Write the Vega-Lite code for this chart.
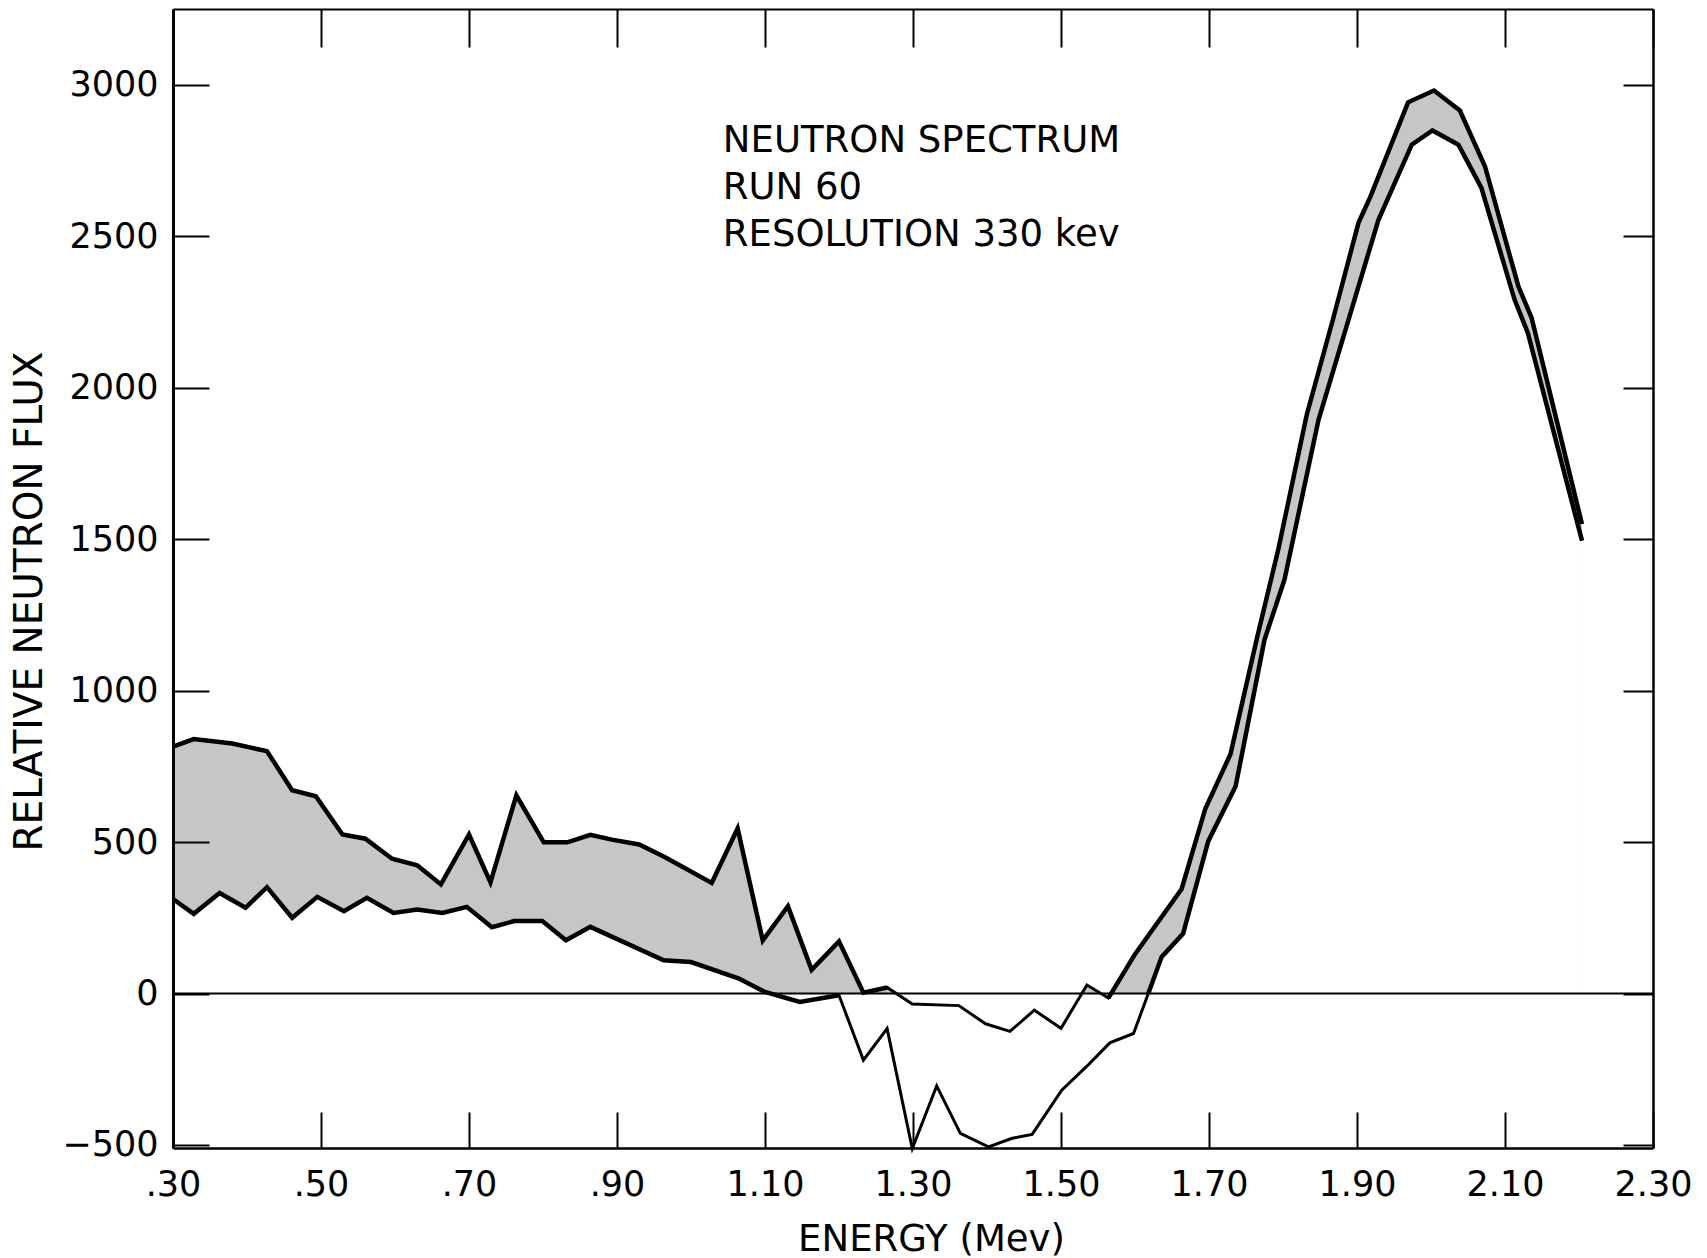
{
  "$schema": "https://vega.github.io/schema/vega-lite/v6.json",
  "width": 1480,
  "height": 1139,
  "autosize": {"type": "none"},
  "padding": {"left": 173, "top": 9, "right": 54, "bottom": 110},
  "background": "white",
  "config": {"view": {"stroke": null}},
  "datasets": {
    "curves": [
      {"E": 0.300, "flux": 815, "curve": "upper", "edge": "left"},
      {"E": 0.328, "flux": 840, "curve": "upper", "edge": "left"},
      {"E": 0.380, "flux": 825, "curve": "upper", "edge": "left"},
      {"E": 0.427, "flux": 800, "curve": "upper", "edge": "left"},
      {"E": 0.461, "flux": 671, "curve": "upper", "edge": "left"},
      {"E": 0.493, "flux": 651, "curve": "upper", "edge": "left"},
      {"E": 0.529, "flux": 525, "curve": "upper", "edge": "left"},
      {"E": 0.560, "flux": 511, "curve": "upper", "edge": "left"},
      {"E": 0.596, "flux": 445, "curve": "upper", "edge": "left"},
      {"E": 0.630, "flux": 423, "curve": "upper", "edge": "left"},
      {"E": 0.662, "flux": 360, "curve": "upper", "edge": "left"},
      {"E": 0.700, "flux": 525, "curve": "upper", "edge": "left"},
      {"E": 0.729, "flux": 367, "curve": "upper", "edge": "left"},
      {"E": 0.764, "flux": 654, "curve": "upper", "edge": "left"},
      {"E": 0.801, "flux": 499, "curve": "upper", "edge": "left"},
      {"E": 0.833, "flux": 499, "curve": "upper", "edge": "left"},
      {"E": 0.864, "flux": 524, "curve": "upper", "edge": "left"},
      {"E": 0.893, "flux": 508, "curve": "upper", "edge": "left"},
      {"E": 0.930, "flux": 492, "curve": "upper", "edge": "left"},
      {"E": 0.965, "flux": 450, "curve": "upper", "edge": "left"},
      {"E": 1.028, "flux": 365, "curve": "upper", "edge": "left"},
      {"E": 1.063, "flux": 545, "curve": "upper", "edge": "left"},
      {"E": 1.097, "flux": 175, "curve": "upper", "edge": "left"},
      {"E": 1.131, "flux": 288, "curve": "upper", "edge": "left"},
      {"E": 1.163, "flux": 78, "curve": "upper", "edge": "left"},
      {"E": 1.200, "flux": 172, "curve": "upper", "edge": "left"},
      {"E": 1.233, "flux": 3, "curve": "upper", "edge": "left"},
      {"E": 1.265, "flux": 20, "curve": "upper", "edge": "left"},
      {"E": 1.299, "flux": -35, "curve": "upper", "edge": "none"},
      {"E": 1.362, "flux": -40, "curve": "upper", "edge": "none"},
      {"E": 1.398, "flux": -100, "curve": "upper", "edge": "none"},
      {"E": 1.431, "flux": -125, "curve": "upper", "edge": "none"},
      {"E": 1.464, "flux": -55, "curve": "upper", "edge": "none"},
      {"E": 1.500, "flux": -115, "curve": "upper", "edge": "none"},
      {"E": 1.535, "flux": 28, "curve": "upper", "edge": "none"},
      {"E": 1.564, "flux": -15, "curve": "upper", "edge": "right"},
      {"E": 1.600, "flux": 130, "curve": "upper", "edge": "right"},
      {"E": 1.663, "flux": 345, "curve": "upper", "edge": "right"},
      {"E": 1.695, "flux": 610, "curve": "upper", "edge": "right"},
      {"E": 1.729, "flux": 790, "curve": "upper", "edge": "right"},
      {"E": 1.765, "flux": 1175, "curve": "upper", "edge": "right"},
      {"E": 1.794, "flux": 1470, "curve": "upper", "edge": "right"},
      {"E": 1.832, "flux": 1910, "curve": "upper", "edge": "right"},
      {"E": 1.868, "flux": 2230, "curve": "upper", "edge": "right"},
      {"E": 1.902, "flux": 2544, "curve": "upper", "edge": "right"},
      {"E": 1.918, "flux": 2630, "curve": "upper", "edge": "right"},
      {"E": 1.969, "flux": 2942, "curve": "upper", "edge": "right"},
      {"E": 2.004, "flux": 2981, "curve": "upper", "edge": "right"},
      {"E": 2.039, "flux": 2915, "curve": "upper", "edge": "right"},
      {"E": 2.073, "flux": 2730, "curve": "upper", "edge": "right"},
      {"E": 2.118, "flux": 2335, "curve": "upper", "edge": "right"},
      {"E": 2.136, "flux": 2230, "curve": "upper", "edge": "right"},
      {"E": 2.204, "flux": 1550, "curve": "upper", "edge": "right"},

      {"E": 0.300, "flux": 312, "curve": "lower", "edge": "left"},
      {"E": 0.328, "flux": 263, "curve": "lower", "edge": "left"},
      {"E": 0.363, "flux": 332, "curve": "lower", "edge": "left"},
      {"E": 0.398, "flux": 283, "curve": "lower", "edge": "left"},
      {"E": 0.427, "flux": 351, "curve": "lower", "edge": "left"},
      {"E": 0.461, "flux": 250, "curve": "lower", "edge": "left"},
      {"E": 0.495, "flux": 319, "curve": "lower", "edge": "left"},
      {"E": 0.531, "flux": 272, "curve": "lower", "edge": "left"},
      {"E": 0.562, "flux": 316, "curve": "lower", "edge": "left"},
      {"E": 0.598, "flux": 266, "curve": "lower", "edge": "left"},
      {"E": 0.630, "flux": 277, "curve": "lower", "edge": "left"},
      {"E": 0.664, "flux": 266, "curve": "lower", "edge": "left"},
      {"E": 0.697, "flux": 286, "curve": "lower", "edge": "left"},
      {"E": 0.731, "flux": 219, "curve": "lower", "edge": "left"},
      {"E": 0.761, "flux": 239, "curve": "lower", "edge": "left"},
      {"E": 0.799, "flux": 239, "curve": "lower", "edge": "left"},
      {"E": 0.831, "flux": 176, "curve": "lower", "edge": "left"},
      {"E": 0.864, "flux": 220, "curve": "lower", "edge": "left"},
      {"E": 0.963, "flux": 110, "curve": "lower", "edge": "left"},
      {"E": 1.000, "flux": 104, "curve": "lower", "edge": "left"},
      {"E": 1.064, "flux": 50, "curve": "lower", "edge": "left"},
      {"E": 1.100, "flux": 5, "curve": "lower", "edge": "left"},
      {"E": 1.147, "flux": -28, "curve": "lower", "edge": "left"},
      {"E": 1.200, "flux": -6, "curve": "lower", "edge": "left"},
      {"E": 1.233, "flux": -220, "curve": "lower", "edge": "none"},
      {"E": 1.265, "flux": -116, "curve": "lower", "edge": "none"},
      {"E": 1.299, "flux": -512, "curve": "lower", "edge": "none"},
      {"E": 1.332, "flux": -305, "curve": "lower", "edge": "none"},
      {"E": 1.364, "flux": -462, "curve": "lower", "edge": "none"},
      {"E": 1.402, "flux": -506, "curve": "lower", "edge": "none"},
      {"E": 1.434, "flux": -478, "curve": "lower", "edge": "none"},
      {"E": 1.461, "flux": -465, "curve": "lower", "edge": "none"},
      {"E": 1.501, "flux": -319, "curve": "lower", "edge": "none"},
      {"E": 1.535, "flux": -240, "curve": "lower", "edge": "none"},
      {"E": 1.566, "flux": -163, "curve": "lower", "edge": "none"},
      {"E": 1.598, "flux": -132, "curve": "lower", "edge": "none"},
      {"E": 1.618, "flux": 0, "curve": "lower", "edge": "right"},
      {"E": 1.636, "flux": 121, "curve": "lower", "edge": "right"},
      {"E": 1.665, "flux": 198, "curve": "lower", "edge": "right"},
      {"E": 1.699, "flux": 503, "curve": "lower", "edge": "right"},
      {"E": 1.736, "flux": 684, "curve": "lower", "edge": "right"},
      {"E": 1.775, "flux": 1168, "curve": "lower", "edge": "right"},
      {"E": 1.802, "flux": 1366, "curve": "lower", "edge": "right"},
      {"E": 1.848, "flux": 1894, "curve": "lower", "edge": "right"},
      {"E": 1.929, "flux": 2554, "curve": "lower", "edge": "right"},
      {"E": 1.974, "flux": 2802, "curve": "lower", "edge": "right"},
      {"E": 2.002, "flux": 2849, "curve": "lower", "edge": "right"},
      {"E": 2.037, "flux": 2802, "curve": "lower", "edge": "right"},
      {"E": 2.068, "flux": 2660, "curve": "lower", "edge": "right"},
      {"E": 2.113, "flux": 2290, "curve": "lower", "edge": "right"},
      {"E": 2.131, "flux": 2180, "curve": "lower", "edge": "right"},
      {"E": 2.204, "flux": 1495, "curve": "lower", "edge": "right"}
    ]
  },
  "resolve": {"axis": {"x": "independent", "y": "independent"}},
  "layer": [
    {
      "data": {"name": "curves"},
      "transform": [{"filter": "datum.curve == 'upper'"}],
      "mark": {"type": "area", "fill": "#c6c6c6", "stroke": null},
      "encoding": {
        "x": {
          "field": "E", "type": "quantitative",
          "scale": {"domain": [0.3, 2.3], "nice": false, "zero": false},
          "axis": {
            "orient": "bottom",
            "values": [0.3, 0.5, 0.7, 0.9, 1.1, 1.3, 1.5, 1.7, 1.9, 2.1, 2.3],
            "labelExpr": "datum.value < 1 ? slice(format(datum.value, '.2f'), 1) : format(datum.value, '.2f')",
            "grid": false,
            "domain": true, "domainColor": "black", "domainWidth": 2.5,
            "tickSize": -36, "tickWidth": 2, "tickColor": "black",
            "labelFont": "DejaVu Sans", "labelFontSize": 35, "labelColor": "black",
            "labelPadding": 55, "labelFlush": false, "labelOverlap": false,
            "title": "ENERGY (Mev)",
            "titleFont": "DejaVu Sans", "titleFontSize": 37, "titleFontWeight": "normal", "titleColor": "black",
            "titleX": 758, "titleY": 102, "titleBaseline": "alphabetic", "titleAlign": "center",
            "zindex": 1
          }
        },
        "y": {
          "field": "flux", "type": "quantitative",
          "scale": {"domain": [-510, 3250], "nice": false, "zero": false},
          "axis": {
            "orient": "left",
            "values": [-500, 0, 500, 1000, 1500, 2000, 2500, 3000],
            "format": "d",
            "grid": false,
            "domain": true, "domainColor": "black", "domainWidth": 3,
            "tickSize": -36, "tickWidth": 2, "tickColor": "black",
            "labelFont": "DejaVu Sans", "labelFontSize": 35, "labelColor": "black",
            "labelPadding": 51, "labelOverlap": false,
            "title": "RELATIVE NEUTRON FLUX",
            "titleFont": "DejaVu Sans", "titleFontSize": 39, "titleFontWeight": "normal", "titleColor": "black",
            "titleX": -132, "titleY": 592, "titleAngle": 270, "titleBaseline": "alphabetic", "titleAlign": "center",
            "zindex": 1
          }
        },
        "y2": {"datum": 0}
      }
    },
    {
      "data": {"name": "curves"},
      "transform": [{"filter": "datum.curve == 'lower'"}],
      "mark": {"type": "area", "fill": "white", "stroke": null},
      "encoding": {
        "x": {
          "field": "E", "type": "quantitative",
          "scale": {"domain": [0.3, 2.3], "nice": false, "zero": false},
          "axis": {
            "orient": "top",
            "values": [0.3, 0.5, 0.7, 0.9, 1.1, 1.3, 1.5, 1.7, 1.9, 2.1, 2.3],
            "labels": false, "grid": false, "title": null,
            "domain": true, "domainColor": "black", "domainWidth": 2,
            "tickSize": -38, "tickWidth": 2, "tickColor": "black",
            "zindex": 1
          }
        },
        "y": {
          "field": "flux", "type": "quantitative",
          "scale": {"domain": [-510, 3250], "nice": false, "zero": false},
          "axis": {
            "orient": "right",
            "values": [-500, 0, 500, 1000, 1500, 2000, 2500, 3000],
            "labels": false, "grid": false, "title": null,
            "domain": true, "domainColor": "black", "domainWidth": 2.5,
            "tickSize": -30, "tickWidth": 2, "tickColor": "black",
            "zindex": 1
          }
        },
        "y2": {"datum": 0}
      }
    },
    {
      "data": {"values": [{"level": 0}]},
      "mark": {"type": "rule", "color": "black", "strokeWidth": 2},
      "encoding": {
        "y": {"field": "level", "type": "quantitative", "scale": {"domain": [-510, 3250], "nice": false, "zero": false}, "axis": null}
      }
    },
    {
      "data": {"name": "curves"},
      "mark": {"type": "line", "color": "black", "strokeWidth": 3, "strokeJoin": "miter"},
      "encoding": {
        "x": {"field": "E", "type": "quantitative", "scale": {"domain": [0.3, 2.3], "nice": false, "zero": false}, "axis": null},
        "y": {"field": "flux", "type": "quantitative", "scale": {"domain": [-510, 3250], "nice": false, "zero": false}, "axis": null},
        "detail": {"field": "curve", "type": "nominal"}
      }
    },
    {
      "data": {"name": "curves"},
      "transform": [{"filter": "datum.edge != 'none'"}],
      "mark": {"type": "line", "color": "black", "strokeWidth": 4.5, "strokeJoin": "miter"},
      "encoding": {
        "x": {"field": "E", "type": "quantitative", "scale": {"domain": [0.3, 2.3], "nice": false, "zero": false}, "axis": null},
        "y": {"field": "flux", "type": "quantitative", "scale": {"domain": [-510, 3250], "nice": false, "zero": false}, "axis": null},
        "detail": [{"field": "curve", "type": "nominal"}, {"field": "edge", "type": "nominal"}]
      }
    },
    {
      "data": {"values": [{"E": 1.043, "flux": 2777, "label": ["NEUTRON SPECTRUM", "RUN 60", "RESOLUTION 330 kev"]}]},
      "mark": {
        "type": "text", "align": "left", "baseline": "alphabetic",
        "font": "DejaVu Sans", "fontSize": 37, "color": "black", "lineHeight": 47
      },
      "encoding": {
        "x": {"field": "E", "type": "quantitative", "scale": {"domain": [0.3, 2.3], "nice": false, "zero": false}, "axis": null},
        "y": {"field": "flux", "type": "quantitative", "scale": {"domain": [-510, 3250], "nice": false, "zero": false}, "axis": null},
        "text": {"field": "label"}
      }
    }
  ]
}
